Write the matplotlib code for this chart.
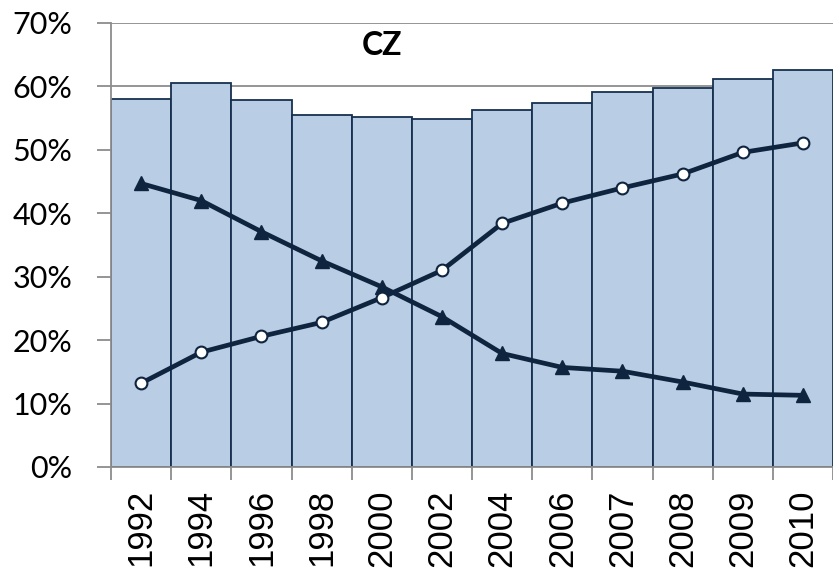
import matplotlib.pyplot as plt
import numpy as np
from matplotlib.ticker import PercentFormatter

years = ['1992', '1994', '1996', '1998', '2000', '2002', '2004',
         '2006', '2007', '2008', '2009', '2010']
bars = [58.0, 60.5, 57.9, 55.5, 55.2, 54.9, 56.3, 57.4, 59.2, 59.7, 61.2, 62.6]
triangles = [44.7, 42.0, 37.1, 32.5, 28.4, 23.7, 17.9, 15.7, 15.1, 13.4, 11.5, 11.3]
circles = [13.2, 18.1, 20.6, 22.8, 26.7, 31.0, 38.4, 41.6, 44.0, 46.2, 49.6, 51.1]

navy = '#0f243e'

fig = plt.figure(figsize=(8.33, 5.68), dpi=100)
ax = fig.add_axes([111/833, 101/568, 1 - 111/833, 444/568])

x = np.arange(len(years))
ax.bar(x, bars, width=1.0, color='#b9cde5', edgecolor='#17304f', linewidth=1.3, zorder=2)
ax.plot(x, triangles, color=navy, lw=3.4, marker='^', ms=10, zorder=3)
ax.plot(x, circles, color=navy, lw=3.4, marker='o', ms=8.5, mfc='white',
        mec=navy, mew=1.5, zorder=4)

ax.set_xlim(-0.5, len(years) - 0.5)
ax.set_ylim(0, 70)
ax.set_yticks(range(0, 71, 10))
ax.yaxis.set_major_formatter(PercentFormatter(decimals=0))
ax.yaxis.grid(True, color='#8c8c8c', lw=1.3, zorder=0)
ax.set_axisbelow(True)

ax.set_xticks(x)
ax.set_xticklabels(years, rotation=90, fontsize=25, fontfamily='Liberation Sans')
ax.set_xticks(np.arange(-0.5, len(years)), minor=True)
ax.tick_params(axis='x', which='major', length=0, pad=16)
ax.tick_params(axis='x', which='minor', length=9, width=1.3, color='#8c8c8c')
ax.tick_params(axis='y', length=10, width=1.3, color='#8c8c8c', labelsize=22, pad=18)
for lab in ax.get_yticklabels():
    lab.set_fontfamily('Lato')

for s in ['top', 'right']:
    ax.spines[s].set_visible(False)
for s in ['left', 'bottom']:
    ax.spines[s].set_color('#8c8c8c')
    ax.spines[s].set_linewidth(1.3)

ax.text(4.0, 66.5, 'CZ', ha='center', va='center', fontsize=23,
        fontweight='bold', fontfamily='Lato')

fig.savefig('out.png', dpi=100)
